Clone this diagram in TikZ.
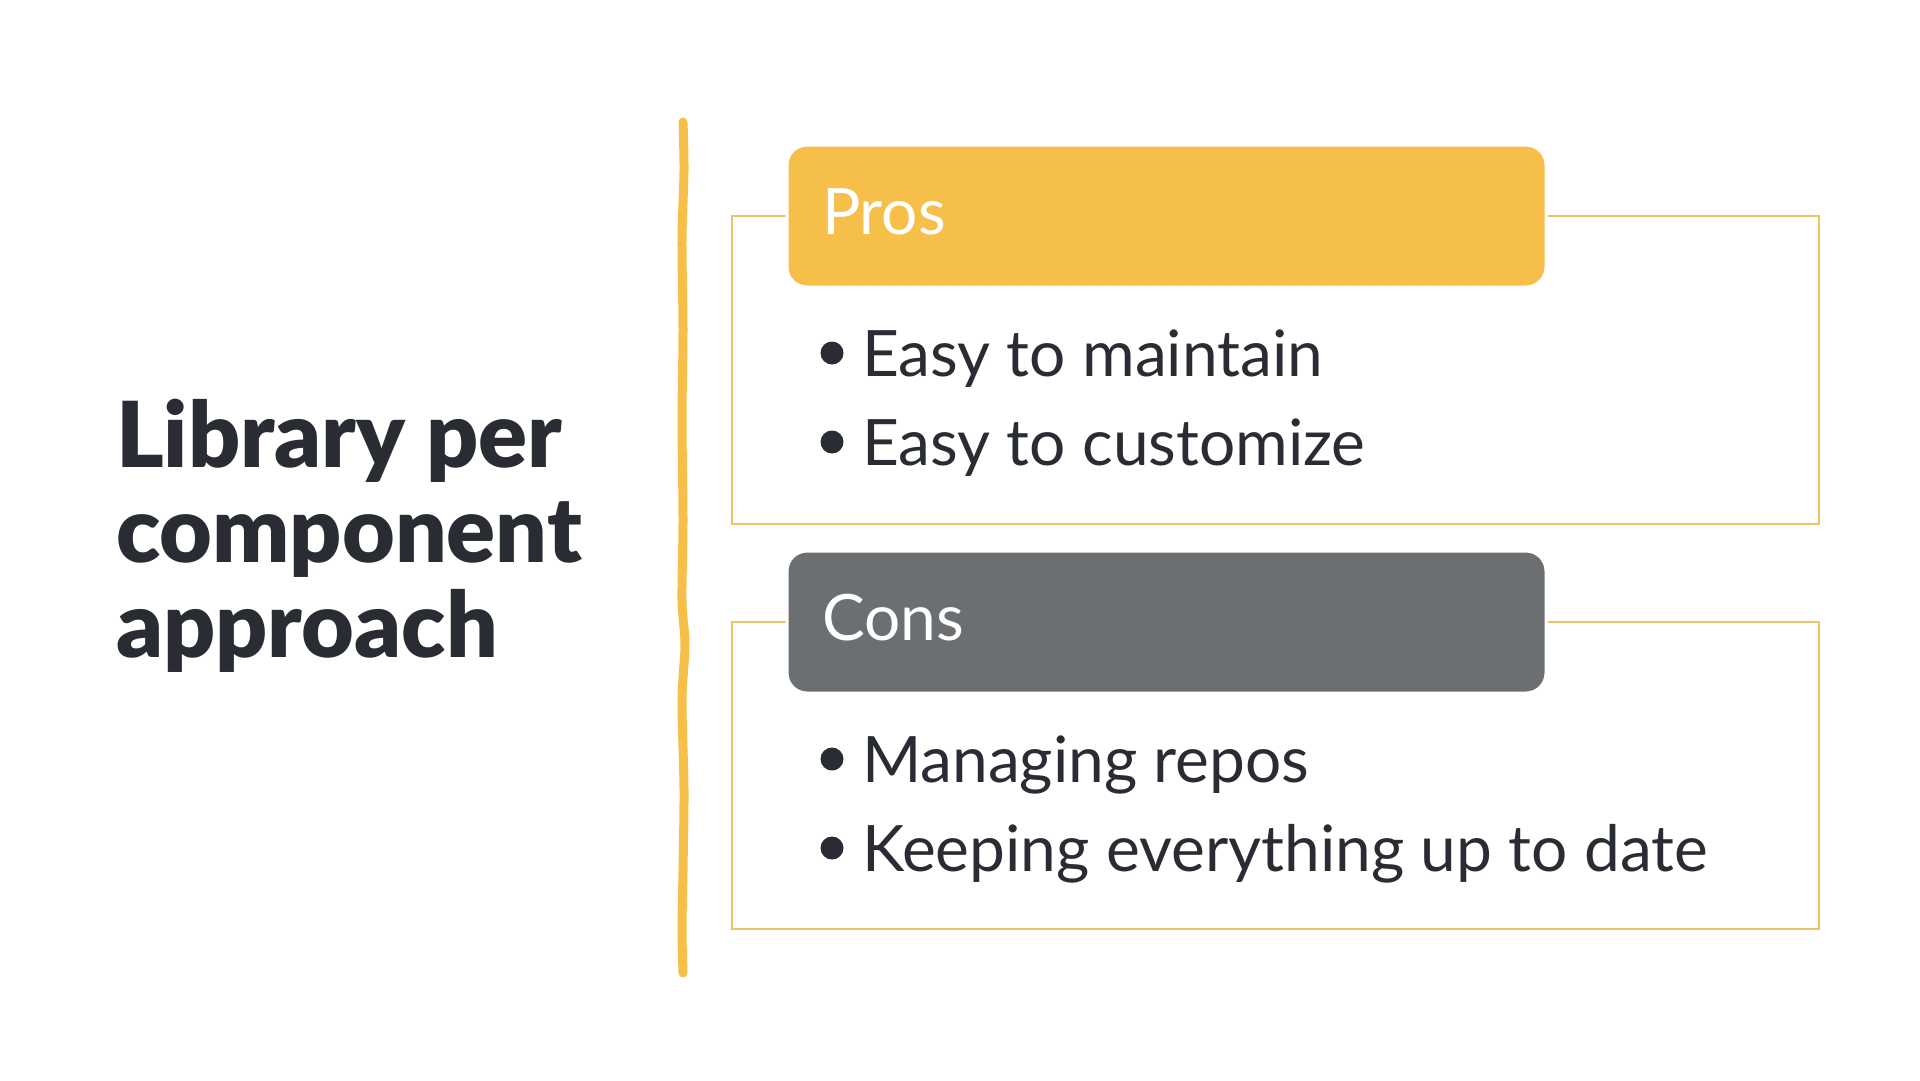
\documentclass[tikz,border=0pt]{standalone}
\usepackage{fontspec}
\setmainfont{Lato}
\newfontfamily\heavyfont{Lato Black}
\usepackage{xcolor}
\usetikzlibrary{positioning,calc}
\definecolor{proscol}{HTML}{F6BF4A}
\definecolor{conscol}{HTML}{6C6F71}
\definecolor{framecol}{HTML}{EBC467}
\definecolor{inkcol}{HTML}{2A2C33}

\begin{document}
\begin{tikzpicture}[x=1pt,y=-1pt]
	\tikzstyle{every node}=[inner sep=0pt, outer sep=0pt]
	\tikzstyle{headbox}=[rounded corners=20pt, draw=white, line width=3pt, minimum width=759pt, minimum height=142pt, anchor=north west]
	\tikzstyle{headtext}=[font=\fontsize{64}{70}\selectfont, text=white, anchor=base west]
	\tikzstyle{itemtext}=[font=\fontsize{64}{70}\selectfont, text=inkcol, anchor=base west]
	\tikzstyle{frame}=[draw=framecol, line width=2pt]
	\useasboundingbox (0,0) rectangle (1920,1080);
	\fill[white] (0,0) rectangle (1920,1080);
	\node [font=\fontsize{91}{95}\selectfont\heavyfont, text=inkcol, align=left, anchor=base west] (title) at (116,657) {Library per\\component\\approach};
	\draw [line width=9pt, line cap=round, proscol] plot[smooth] coordinates {(683,122) (684,170) (682,240) (683,330) (682,420) (683,520) (682,600) (685,645) (682,700) (684,790) (683,870) (682,930) (683,973)};
	\draw [frame] (732,216) rectangle (1819,524);
	\draw [frame] (732,622) rectangle (1819,929);
	\node [headbox, fill=proscol] (pros) at (787,145) {};
	\node [headbox, fill=conscol] (cons) at (787,551) {};
	\node [headtext] (proslabel) at (822,234) {Pros};
	\node [headtext] (conslabel) at (822,640) {Cons};
	\node [itemtext] (pros1) at (862,376) {Easy to maintain};
	\node [itemtext] (pros2) at (862,465) {Easy to customize};
	\node [itemtext] (cons1) at (862,782) {Managing repos};
	\node [itemtext] (cons2) at (862,871) {Keeping everything up to date};
	\foreach \item in {pros1,pros2,cons1,cons2}
		\fill [inkcol] ($(\item.base west)+(-30,-23)$) circle (11.5);
\end{tikzpicture}
\end{document}
